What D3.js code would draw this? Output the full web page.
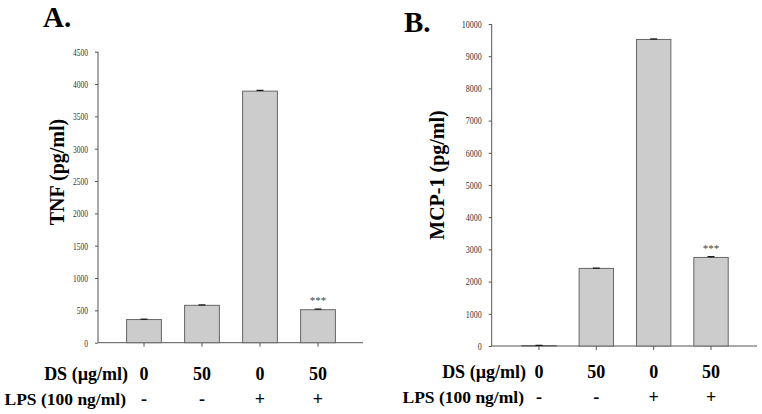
<!DOCTYPE html>
<html>
<head>
<meta charset="utf-8">
<script src="https://cdn.jsdelivr.net/npm/d3@7"></script>
<style>
  body { margin: 0; background: #fff; }
  svg { display: block; }
</style>
</head>
<body>
<svg id="chart" width="762" height="414"></svg>
<script>
// ---- data ----
const categories = ["g1", "g2", "g3", "g4"];
const dsLabels = ["0", "50", "0", "50"];
const lpsLabels = ["-", "-", "+", "+"];
const tnfValues = [358, 578, 3890, 510];
const tnfErrors = [6, 6, 12, 10];
const mcpValues = [15, 2410, 9520, 2750];
const mcpErrors = [5, 8, 15, 25];
const tnfTicks = [0, 500, 1000, 1500, 2000, 2500, 3000, 3500, 4000, 4500];
const mcpTicks = [0, 1000, 2000, 3000, 4000, 5000, 6000, 7000, 8000, 9000, 10000];
const sigMarks = ["", "", "", "***"];

const svg = d3.select("#chart");
const serif = "'Liberation Serif', 'Times New Roman', serif";

function panel(cfg) {
  const g = svg.append("g");
  const y = d3.scaleLinear().domain([0, cfg.max]).range([cfg.y0, cfg.y1]);
  const x = d3.scaleBand().domain(categories).range(cfg.xRange)
    .paddingInner(0.4).paddingOuter(0.2);

  // y axis
  const yAxis = d3.axisLeft(y).tickValues(cfg.ticks).tickSize(3).tickPadding(7)
    .tickFormat(d3.format("d"));
  const ya = g.append("g").attr("transform", `translate(${cfg.ax},0)`).call(yAxis);
  ya.select(".domain").attr("stroke", "#555").attr("d", `M-0,${cfg.y0}V${cfg.y1}`);
  ya.selectAll(".tick line").attr("stroke", "#555");
  ya.selectAll(".tick text")
    .attr("font-family", serif).attr("font-size", 10.5).attr("fill", "#333")
    .attr("textLength", d => String(d).length * cfg.digitW)
    .attr("lengthAdjust", "spacingAndGlyphs");

  // x axis line
  const xa = d3.axisBottom(x).tickSize(4).tickFormat("");
  const xg = g.append("g").attr("transform", `translate(0,${cfg.y0})`).call(xa);
  xg.select(".domain").attr("stroke", "#555").attr("d", `M${cfg.ax},0H${cfg.axEnd}`);
  xg.selectAll(".tick line").attr("stroke", "#555");

  // bars
  g.selectAll("rect.bar").data(cfg.values).join("rect")
    .attr("class", "bar")
    .attr("x", (d, i) => x(categories[i]))
    .attr("width", x.bandwidth())
    .attr("y", d => y(d))
    .attr("height", d => cfg.y0 - y(d))
    .attr("fill", "#cccccc").attr("stroke", "#666").attr("stroke-width", 1);

  // error bars
  cfg.values.forEach((v, i) => {
    const cx = x(categories[i]) + x.bandwidth() / 2;
    const e = cfg.errors[i];
    g.append("line").attr("x1", cx).attr("x2", cx)
      .attr("y1", y(v)).attr("y2", y(v + e)).attr("stroke", "#111");
    g.append("line").attr("x1", cx - 3.5).attr("x2", cx + 3.5)
      .attr("y1", y(v + e)).attr("y2", y(v + e)).attr("stroke", "#111").attr("stroke-width", 1.2);
    if (sigMarks[i]) {
      g.append("text").attr("x", cx).attr("y", y(v + e) - 5)
        .attr("text-anchor", "middle").attr("font-family", serif)
        .attr("font-size", 11).attr("fill", "#444").text(sigMarks[i]);
    }
  });

  // panel letter
  g.append("text").attr("x", cfg.letterX).attr("y", cfg.letterY)
    .attr("font-family", serif).attr("font-weight", "bold").attr("font-size", 29)
    .attr("fill", "#000").text(cfg.letter);

  // y title
  g.append("text")
    .attr("transform", `translate(${cfg.titleX},${cfg.titleY}) rotate(-90)`)
    .attr("text-anchor", "middle").attr("font-family", serif)
    .attr("font-weight", "bold").attr("font-size", 20).attr("fill", "#000")
    .text(cfg.title);

  // row labels
  g.append("text").attr("x", cfg.rowLabelX).attr("y", cfg.dsY)
    .attr("text-anchor", "end").attr("font-family", serif).attr("font-weight", "bold")
    .attr("font-size", 18).text("DS (µg/ml)");
  g.append("text").attr("x", cfg.rowLabelX - 2).attr("y", cfg.lpsY)
    .attr("text-anchor", "end").attr("font-family", serif).attr("font-weight", "bold")
    .attr("font-size", 17.5).text("LPS (100 ng/ml)");

  categories.forEach((c, i) => {
    const cx = x(c) + x.bandwidth() / 2;
    g.append("text").attr("x", cx).attr("y", cfg.dsY).attr("text-anchor", "middle")
      .attr("font-family", serif).attr("font-weight", "bold").attr("font-size", 18)
      .text(dsLabels[i]);
    g.append("text").attr("x", cx).attr("y", cfg.lpsY).attr("text-anchor", "middle")
      .attr("font-family", serif).attr("font-weight", "bold").attr("font-size", 18)
      .text(lpsLabels[i]);
  });
}

panel({
  values: tnfValues, errors: tnfErrors, ticks: tnfTicks, max: 4500,
  y0: 342.7, y1: 51.7, ax: 98, axEnd: 363, xRange: [115, 347],
  digitW: 3.75, letter: "A.", letterX: 43, letterY: 27,
  title: "TNF (pg/ml)", titleX: 64, titleY: 172,
  rowLabelX: 128, dsY: 380, lpsY: 405
});

panel({
  values: mcpValues, errors: mcpErrors, ticks: mcpTicks, max: 10000,
  y0: 346, y1: 24, ax: 491.7, axEnd: 757, xRange: [510.3, 739.7],
  digitW: 4, letter: "B.", letterX: 404, letterY: 32,
  title: "MCP-1 (pg/ml)", titleX: 444, titleY: 175,
  rowLabelX: 526, dsY: 378, lpsY: 403
});
</script>
</body>
</html>
